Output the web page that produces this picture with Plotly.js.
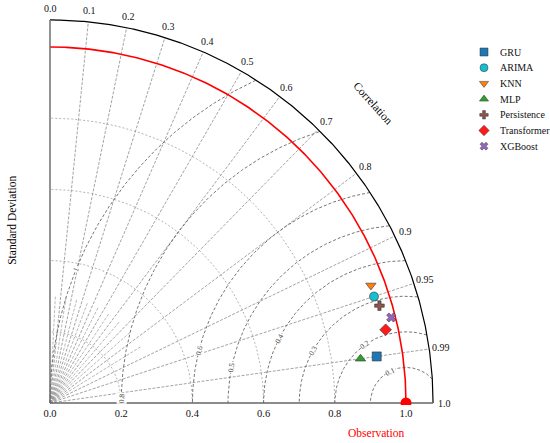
<!DOCTYPE html>
<html><head><meta charset="utf-8">
<script src="https://cdn.plot.ly/plotly-3.0.1.min.js"></script>
<style>html,body{margin:0;padding:0;background:#fff}</style>
</head><body><div id="chart" style="width:550px;height:443px"></div>
<script>
// ---- data ----
const models = ['GRU','ARIMA','KNN','MLP','Persistence','Transformer','XGBoost'];
const stdDev = [0.927, 0.958, 0.960, 0.881, 0.965, 0.965, 0.988];
const correlation = [0.990, 0.950, 0.939, 0.990, 0.959, 0.977, 0.970];
const refStd = 1.0;
const refName = 'Observation';
const corrTicks = [0,0.1,0.2,0.3,0.4,0.5,0.6,0.7,0.8,0.9,0.95,0.99,1.0];
const corrTickLabels = ['0.0','0.1','0.2','0.3','0.4','0.5','0.6','0.7','0.8','0.9','0.95','0.99','1.0'];
const corrMinor = [0.05,0.15,0.25,0.35,0.45,0.55,0.65,0.75,0.85];
const stdTicks = [0,0.2,0.4,0.6,0.8,1.0];
const stdTickLabels = ['0.0','0.2','0.4','0.6','0.8','1.0'];
const stdContours = [0.2,0.4,0.6,0.8];
const rmsContours = [0.1,0.2,0.3,0.4,0.5,0.6,0.8,1.0];
const rmsLabels = ['0.1','0.2','0.3','0.4','0.5','0.6','0.8','1'];

// ---- style ----
const Rmax = 1.076;
const symbols = ['square','circle','triangle-down','triangle-up','cross','diamond','x'];
const colors = ['#1f77b4','#17becf','#ff7f0e','#2ca02c','#8c564b','#ff1a1a','#9467bd'];
const sizes = [9,9,9,9,8,9,8];
const rmsLabelAngle = [116,125,150.5,153,168.6,165.7,179,158];
const serif = '"Liberation Serif", "DejaVu Serif", serif';
const px = 356;
const legX = 434/px, legTextX = 448/px, legTop = 351/px, legStep = 15.7/px;

const traces = [];
const ann = [];
function arc(cx, cy, r, a0, a1, n){
  const xs=[], ys=[];
  for(let i=0;i<=n;i++){const a=(a0+(a1-a0)*i/n)*Math.PI/180; xs.push(cx+r*Math.cos(a)); ys.push(cy+r*Math.sin(a));}
  return [xs,ys];
}
function line(xs, ys, color, width, dash){
  traces.push({x:xs,y:ys,mode:'lines',line:{color:color,width:width,dash:dash},hoverinfo:'skip',showlegend:false});
}
// std contours
stdContours.forEach(s=>{const [xs,ys]=arc(0,0,s,0,90,200); line(xs,ys,'#b4b4b4',1,'2px,2px');});
// correlation lines
corrTicks.forEach(c=>{ if(c<=0||c>=1) return; const a=Math.acos(c); line([0,Rmax*Math.cos(a)],[0,Rmax*Math.sin(a)],'#8c8c8c',0.8,'3px,1.5px');});
corrMinor.forEach(c=>{ const a=Math.acos(c); line([0,0.3*Math.cos(a)],[0,0.3*Math.sin(a)],'#9a9a9a',0.7,'3px,1.5px');});
// RMS contours
rmsContours.forEach((r,i)=>{
  const xs=[], ys=[];
  for(let k=0;k<=720;k++){const a=Math.PI*k/720; const x=refStd+r*Math.cos(a), y=r*Math.sin(a);
    if(x>=-1e-9 && Math.hypot(x,y)<=Rmax){xs.push(x);ys.push(y);} }
  line(xs,ys,'#666666',0.9,'3px,2px');
  const t=rmsLabelAngle[i]*Math.PI/180;
  ann.push({x:refStd+r*Math.cos(t),y:r*Math.sin(t),xref:'x',yref:'y',text:rmsLabels[i],showarrow:false,
    textangle:90-rmsLabelAngle[i],font:{family:serif,size:7.5,color:'#444'},bgcolor:'#ffffff',borderpad:0});
});
// reference arc
{const [xs,ys]=arc(0,0,refStd,0,90,300); line(xs,ys,'#ff0000',1.6,'solid');}
// outer arc
{const [xs,ys]=arc(0,0,Rmax,0,90,300); line(xs,ys,'#000000',1.2,'solid');}
// axes lines
line([0,0],[0,Rmax],'#666666',1.4,'solid');
line([0,Rmax],[0,0],'#666666',1.4,'solid');
// correlation labels
corrTicks.forEach((c,i)=>{const a=Math.acos(c); ann.push({x:1.108*Math.cos(a),y:1.108*Math.sin(a),xref:'x',yref:'y',
  text:corrTickLabels[i],showarrow:false,xanchor:'center',yanchor:'middle',font:{family:serif,size:10,color:'#111'}});});
// observation
traces.push({x:[refStd],y:[0],mode:'markers',marker:{color:'#ff0000',size:11,symbol:'circle'},cliponaxis:true,hoverinfo:'skip',showlegend:false});
// models
models.forEach((m,i)=>{
  const a=Math.acos(correlation[i]);
  traces.push({x:[stdDev[i]*Math.cos(a)],y:[stdDev[i]*Math.sin(a)],mode:'markers',name:m,hoverinfo:'skip',showlegend:false,
    marker:{symbol:symbols[i],color:colors[i],size:sizes[i],line:{color:'#333',width:0.6}}});
  // legend entry (drawn by hand)
  traces.push({x:[legX],y:[legTop-i*legStep],mode:'markers',hoverinfo:'skip',showlegend:false,cliponaxis:false,
    marker:{symbol:symbols[i],color:colors[i],size:sizes[i]-1,line:{color:'#333',width:0.5}}});
  ann.push({x:legTextX,y:legTop-i*legStep,xref:'x',yref:'y',text:m,showarrow:false,xanchor:'left',yanchor:'middle',
    font:{family:serif,size:10,color:'#111'}});
});
ann.push({x:-0.088,y:0.4568,xref:'paper',yref:'paper',text:'Standard Deviation',textangle:-90,showarrow:false,font:{family:serif,size:11.5,color:'#000'}});
ann.push({x:0.7131,y:-0.089,xref:'paper',yref:'paper',text:refName,showarrow:false,font:{family:serif,size:11.5,color:'#ff0000'}});
ann.push({x:323/px,y:300/px,xref:'x',yref:'y',text:'Correlation',textangle:48,showarrow:false,font:{family:serif,size:11.5,color:'#000'}});

const layout = {
  width:550,height:443,margin:{l:48,r:0,t:0,b:38},paper_bgcolor:'#fff',plot_bgcolor:'#fff',
  font:{family:serif},
  xaxis:{range:[-2/px,500/px],showgrid:false,zeroline:false,showline:false,tickvals:stdTicks,ticktext:stdTickLabels,
    ticks:'',tickfont:{family:serif,size:10.5,color:'#111'},automargin:false},
  yaxis:{range:[-2/px,403/px],showgrid:false,zeroline:false,showline:false,showticklabels:false,ticks:'',automargin:false},
  annotations:ann,showlegend:false
};
Plotly.newPlot('chart',traces,layout,{displayModeBar:false,staticPlot:true});
</script></body></html>
